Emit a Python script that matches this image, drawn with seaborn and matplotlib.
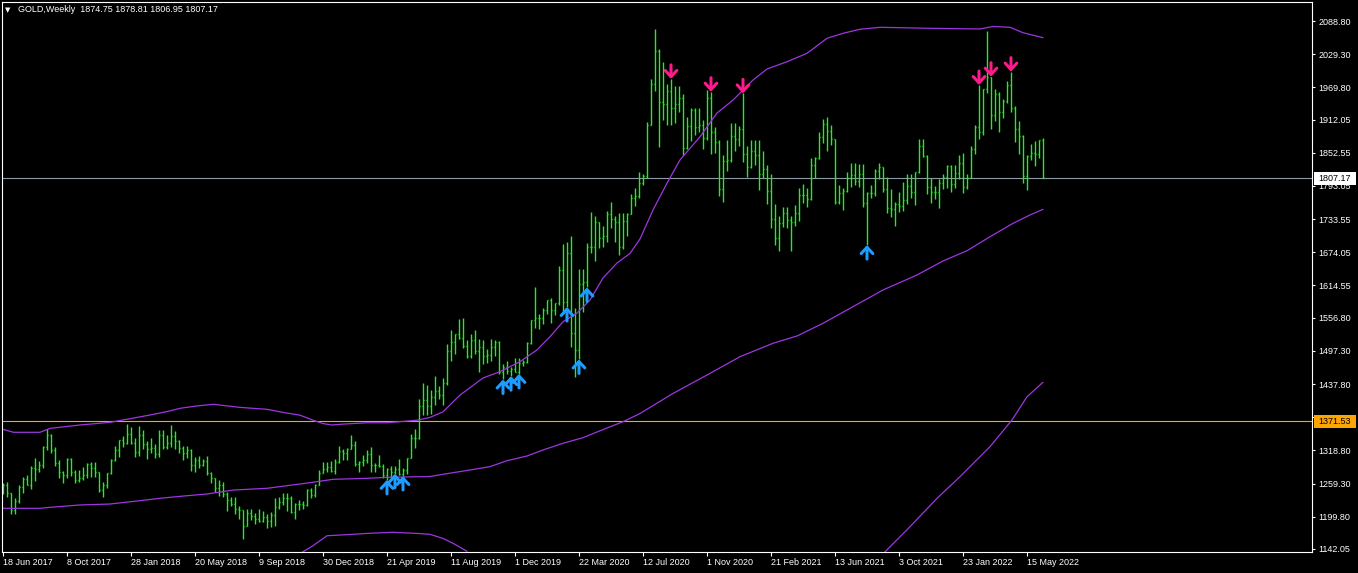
import pandas as pd
import matplotlib
matplotlib.use('Agg')
import matplotlib.pyplot as plt
import matplotlib.transforms as mtransforms
from matplotlib.patches import Rectangle
import seaborn as sns

symbol = 'GOLD,Weekly'
first_week = '2017-06-18'

# weekly OHLC, one value per bar (Jun 2017 .. Jun 2022)
opens = [
    1254, 1256, 1242, 1212, 1228, 1254, 1268, 1257, 1288, 1285, 1292, 1325, 1347, 1320, 1297, 1280, 1274, 1303, 1280, 1266, 1269, 1275, 1294, 1287, 1280, 1248, 1256, 1278, 1302,
    1320, 1338, 1333, 1349, 1333, 1316, 1347, 1330, 1322, 1323, 1313, 1347, 1325, 1332, 1345, 1336, 1323, 1315, 1320, 1292, 1302, 1293, 1299, 1278, 1269, 1252, 1256, 1241, 1230, 1223, 1214, 1212, 1184, 1206, 1201, 1196, 1193, 1200, 1192, 1203, 1218, 1226, 1233, 1233, 1208, 1222, 1222, 1221, 1248, 1238, 1256, 1279,
    1285, 1289, 1282, 1298, 1318, 1314, 1322, 1328, 1294, 1298, 1302, 1312, 1292, 1292, 1290, 1275, 1286, 1280, 1286, 1277, 1284, 1305, 1341, 1341, 1399, 1409, 1399, 1415, 1426, 1419, 1440, 1497, 1513, 1527, 1520, 1506, 1488, 1517, 1497, 1505, 1489, 1490, 1505, 1514, 1459, 1468, 1462, 1464, 1459, 1476, 1478, 1511,
    1552, 1557, 1557, 1571, 1589, 1570, 1584, 1643, 1585, 1673, 1530, 1498, 1617, 1620, 1684, 1683, 1729, 1700, 1703, 1743, 1734, 1729, 1684, 1730, 1743, 1771, 1775, 1799, 1810, 1902, 1975, 2035, 1944, 1940, 1964, 1933, 1940, 1950, 1861, 1900, 1930, 1899, 1902, 1879, 1951, 1889, 1871, 1788, 1838, 1839, 1882, 1877,
    1895, 1850, 1827, 1855, 1848, 1814, 1824, 1784, 1734, 1700, 1727, 1745, 1732, 1728, 1744, 1777, 1777, 1769, 1831, 1843, 1881, 1904, 1891, 1877, 1764, 1781, 1784, 1808, 1812, 1802, 1814, 1763, 1780, 1781, 1819, 1827, 1788, 1754, 1751, 1761, 1757, 1768, 1793, 1783, 1818, 1864, 1846, 1792, 1783, 1783, 1798, 1809,
    1829, 1797, 1817, 1835, 1791, 1808, 1859, 1898, 1889, 1966, 1988, 1921, 1958, 1925, 1945, 1974, 1932, 1896, 1883, 1811, 1846, 1853, 1851, 1874.75,
]
highs = [
    1260, 1263, 1243, 1233, 1256, 1271, 1275, 1291, 1306, 1300, 1326, 1357, 1348, 1325, 1302, 1282, 1306, 1306, 1283, 1284, 1289, 1297, 1298, 1298, 1281, 1262, 1279, 1303, 1326,
    1338, 1344, 1366, 1361, 1341, 1362, 1356, 1335, 1341, 1330, 1355, 1356, 1347, 1365, 1354, 1338, 1326, 1326, 1322, 1307, 1308, 1303, 1309, 1281, 1270, 1265, 1263, 1245, 1235, 1235, 1220, 1212, 1214, 1214, 1206, 1214, 1211, 1204, 1208, 1233, 1236, 1243, 1243, 1237, 1225, 1230, 1229, 1250, 1252, 1259, 1284, 1298,
    1298, 1299, 1303, 1326, 1322, 1323, 1346, 1335, 1300, 1311, 1320, 1325, 1297, 1310, 1295, 1288, 1290, 1290, 1304, 1287, 1306, 1348, 1358, 1411, 1439, 1437, 1427, 1453, 1434, 1449, 1510, 1535, 1527, 1555, 1557, 1517, 1527, 1535, 1519, 1517, 1500, 1518, 1516, 1515, 1474, 1479, 1469, 1484, 1484, 1481, 1513, 1553,
    1611, 1563, 1575, 1589, 1592, 1584, 1649, 1689, 1692, 1703, 1575, 1645, 1645, 1690, 1747, 1739, 1729, 1722, 1748, 1765, 1740, 1745, 1744, 1745, 1779, 1789, 1818, 1815, 1907, 1984, 2075, 2039, 2015, 1976, 1985, 1972, 1973, 1958, 1917, 1933, 1933, 1932, 1912, 1965, 1962, 1898, 1876, 1848, 1875, 1906, 1906, 1900,
    1959, 1864, 1875, 1876, 1875, 1855, 1830, 1815, 1760, 1740, 1755, 1755, 1740, 1758, 1790, 1797, 1790, 1843, 1845, 1890, 1913, 1916, 1903, 1878, 1795, 1790, 1818, 1834, 1834, 1832, 1832, 1782, 1795, 1823, 1834, 1827, 1809, 1787, 1765, 1782, 1800, 1814, 1814, 1818, 1877, 1877, 1849, 1808, 1793, 1805, 1814, 1831,
    1831, 1830, 1848, 1853, 1815, 1865, 1902, 1974, 1966, 2070, 1989, 1966, 1961, 1949, 1982, 1998, 1936, 1909, 1884, 1849, 1869, 1874, 1876, 1878.81,
]
lows = [
    1241, 1236, 1205, 1204, 1225, 1243, 1256, 1250, 1264, 1280, 1288, 1319, 1315, 1290, 1270, 1261, 1270, 1273, 1260, 1263, 1266, 1270, 1272, 1271, 1245, 1236, 1252, 1276, 1299,
    1307, 1325, 1330, 1331, 1307, 1309, 1321, 1303, 1314, 1306, 1307, 1321, 1322, 1325, 1322, 1315, 1302, 1305, 1282, 1281, 1288, 1290, 1274, 1260, 1245, 1237, 1236, 1211, 1219, 1205, 1195, 1160, 1183, 1194, 1187, 1190, 1190, 1180, 1182, 1184, 1214, 1221, 1211, 1206, 1196, 1212, 1213, 1220, 1233, 1236, 1256, 1279,
    1280, 1281, 1276, 1297, 1302, 1302, 1321, 1291, 1281, 1290, 1296, 1280, 1281, 1289, 1270, 1266, 1266, 1277, 1274, 1273, 1276, 1305, 1323, 1340, 1382, 1382, 1385, 1400, 1411, 1400, 1437, 1480, 1492, 1519, 1503, 1484, 1485, 1491, 1459, 1474, 1475, 1480, 1488, 1456, 1446, 1456, 1452, 1459, 1456, 1471, 1476, 1510,
    1538, 1536, 1546, 1563, 1548, 1562, 1580, 1563, 1576, 1504, 1451, 1482, 1567, 1611, 1673, 1659, 1681, 1683, 1692, 1717, 1693, 1670, 1680, 1704, 1743, 1757, 1772, 1794, 1807, 1902, 1963, 1863, 1911, 1902, 1902, 1906, 1926, 1848, 1860, 1873, 1885, 1890, 1860, 1876, 1850, 1853, 1775, 1764, 1819, 1836, 1855, 1864,
    1836, 1809, 1825, 1831, 1785, 1808, 1760, 1717, 1687, 1676, 1720, 1718, 1677, 1721, 1731, 1763, 1756, 1768, 1808, 1842, 1870, 1856, 1866, 1761, 1761, 1750, 1783, 1792, 1794, 1791, 1755, 1687, 1772, 1775, 1806, 1782, 1745, 1737, 1721, 1746, 1748, 1760, 1772, 1758, 1816, 1845, 1778, 1762, 1770, 1753, 1788, 1789,
    1782, 1790, 1805, 1780, 1788, 1807, 1851, 1878, 1885, 1960, 1895, 1910, 1889, 1915, 1941, 1925, 1872, 1850, 1798, 1786, 1840, 1828, 1843, 1806.95,
]
closes = [
    1256, 1242, 1212, 1228, 1254, 1268, 1257, 1288, 1285, 1292, 1325, 1347, 1320, 1297, 1280, 1274, 1303, 1280, 1266, 1269, 1275, 1294, 1287, 1280, 1248, 1256, 1278, 1302, 1320,
    1338, 1333, 1349, 1333, 1316, 1347, 1330, 1322, 1323, 1313, 1347, 1325, 1332, 1345, 1336, 1323, 1315, 1320, 1292, 1302, 1293, 1299, 1278, 1269, 1252, 1256, 1241, 1230, 1223, 1214, 1212, 1184, 1206, 1201, 1196, 1193, 1200, 1192, 1203, 1218, 1226, 1233, 1233, 1208, 1222, 1222, 1221, 1248, 1238, 1256, 1279, 1285,
    1289, 1282, 1298, 1318, 1314, 1322, 1328, 1294, 1298, 1302, 1312, 1292, 1292, 1290, 1275, 1286, 1280, 1286, 1277, 1284, 1305, 1341, 1341, 1399, 1409, 1399, 1415, 1426, 1419, 1440, 1497, 1513, 1527, 1520, 1506, 1488, 1517, 1497, 1505, 1489, 1490, 1505, 1514, 1459, 1468, 1462, 1464, 1459, 1476, 1478, 1511, 1552,
    1557, 1557, 1571, 1589, 1570, 1584, 1643, 1585, 1673, 1530, 1498, 1617, 1620, 1684, 1683, 1729, 1700, 1703, 1743, 1734, 1729, 1684, 1730, 1743, 1771, 1775, 1799, 1810, 1902, 1975, 2035, 1944, 1940, 1964, 1933, 1940, 1950, 1861, 1900, 1930, 1899, 1902, 1879, 1951, 1889, 1871, 1788, 1838, 1839, 1882, 1877, 1895,
    1850, 1827, 1855, 1848, 1814, 1824, 1784, 1734, 1700, 1727, 1745, 1732, 1728, 1744, 1777, 1777, 1769, 1831, 1843, 1881, 1904, 1891, 1877, 1764, 1781, 1784, 1808, 1812, 1802, 1814, 1763, 1780, 1781, 1819, 1827, 1788, 1754, 1751, 1761, 1757, 1768, 1793, 1783, 1818, 1864, 1846, 1792, 1783, 1783, 1798, 1809, 1829,
    1797, 1817, 1835, 1791, 1808, 1859, 1898, 1889, 1966, 1988, 1921, 1958, 1925, 1945, 1974, 1932, 1896, 1883, 1811, 1846, 1853, 1851, 1875, 1807.17,
]

# indicator lines at sample bars
upper_bar = [0, 2.6, 9.25, 11.75, 19.25, 26.75, 30.9, 36.75, 40.9, 44.25, 48.4, 52.6, 59.25, 66, 70, 74.25, 77.5, 80,
             82.25, 85, 91, 96, 103.5, 106.75, 110, 114.25, 120, 124.25, 129.25, 133.5, 136.75, 140, 143.5, 146.75,
             150, 153.5, 156.75, 159.25, 162.5, 166, 169.25, 174.25, 178.5, 182.5, 187.5, 191, 196, 201, 206, 210,
             214.25, 219.25, 231.75, 244.25, 247.5, 251.75, 255, 260]
upper_val = [1356.6, 1351.3, 1351.3, 1358.4, 1364.4, 1369.2, 1374.6, 1382.3, 1388.3, 1394.3, 1398.5, 1401.5, 1396,
             1392.5, 1387, 1382, 1373, 1367, 1364.4, 1366, 1368.4, 1368.4, 1373, 1378, 1388, 1418, 1448.7, 1460, 1478,
             1499, 1522.7, 1549.6, 1565, 1588.5, 1628, 1654.9, 1672, 1698, 1749.9, 1798, 1839.6, 1881.3, 1923.8, 1947,
             1983, 2002.7, 2015.8, 2030.9, 2057.8, 2066.7, 2074, 2077.5, 2075.7, 2074.5, 2079, 2077.5, 2067.8, 2058.9]
mid_bar = [0, 9.25, 11.75, 19.25, 26.75, 34.25, 39.25, 46, 51, 57.5, 66, 74.25, 78.5, 82.5, 91, 96, 106.75, 110.5,
           116.75, 121.75, 126, 131, 135, 140, 145, 149.25, 155, 159.25, 167.5, 176, 184.25, 192.5, 198.5, 205,
           211.75, 220, 228.5, 235, 241, 246.75, 252.5, 256.75, 260]
mid_val = [1215, 1215, 1216.8, 1221, 1222.7, 1228.7, 1233, 1237.6, 1240.7, 1247.7, 1250.9, 1258.6, 1262.8, 1267,
           1268.8, 1270.6, 1272, 1276.6, 1283.7, 1289.7, 1300.4, 1308.8, 1319.6, 1331.6, 1341.7, 1354, 1370.3, 1385,
           1421, 1454, 1486.9, 1510.9, 1524, 1546.7, 1573.6, 1606.5, 1633.4, 1658.5, 1676.9, 1702, 1726, 1741, 1751]
lower1_bar = [74.75, 77.5, 81, 87.5, 91, 97.5, 103.5, 106.75, 110, 112.5, 116]
lower1_val = [1136, 1148, 1165.8, 1168.4, 1170, 1172, 1170, 1168.4, 1161, 1152.3, 1138]
lower2_bar = [220.5, 226.75, 233.5, 239.25, 246.75, 252.25, 256, 260]
lower2_val = [1137, 1182, 1232.9, 1271.7, 1325.5, 1373.4, 1415, 1441]

# signal arrows (bar numbers)
buy_bars = [96, 98, 100, 125, 127, 129, 141, 144, 146, 216]
sell_bars = [167, 177, 185, 244, 247, 252]

level_lines = [1807.17, 1371.53]

y_tick_labels = ['2088.80', '2029.30', '1969.80', '1912.05', '1852.55', '1793.05', '1733.55', '1674.05',
                 '1614.55', '1556.80', '1497.30', '1437.80', '1378.30', '1318.80', '1259.30', '1199.80', '1142.05']
x_tick_labels = ['18 Jun 2017', '8 Oct 2017', '28 Jan 2018', '20 May 2018', '9 Sep 2018', '30 Dec 2018',
                 '21 Apr 2019', '11 Aug 2019', '1 Dec 2019', '22 Mar 2020', '12 Jul 2020', '1 Nov 2020',
                 '21 Feb 2021', '13 Jun 2021', '3 Oct 2021', '23 Jan 2022', '15 May 2022']

assert len(opens) == len(highs) == len(lows) == len(closes) == 261

df = pd.DataFrame({'open': opens, 'high': highs, 'low': lows, 'close': closes},
                  index=pd.date_range(first_week, periods=len(closes), freq='7D'))
df['bar'] = range(len(df))

sns.set_theme(style='dark', rc={'axes.facecolor': 'black', 'figure.facecolor': 'black'})
plt.rcParams['font.family'] = ['Liberation Sans', 'DejaVu Sans']

W, H = 1358, 573
fig = plt.figure(figsize=(W / 100, H / 100), dpi=100, facecolor='black')
ax = fig.add_axes([2 / W, 21 / H, 1310 / W, 550 / H])
ax.set_facecolor('black')

green = '#22ee22'
purple = '#9d36e0'

# OHLC bars: high-low stick, open tick left, close tick right
for coll in [ax.vlines(df['bar'], df['low'], df['high'], color=green, lw=1.0),
             ax.hlines(df['open'], df['bar'] - 0.3, df['bar'], color=green, lw=1.0),
             ax.hlines(df['close'], df['bar'], df['bar'] + 0.3, color=green, lw=1.0)]:
    coll.set_snap(True)

for xs, ys in [(upper_bar, upper_val), (mid_bar, mid_val), (lower1_bar, lower1_val), (lower2_bar, lower2_val)]:
    sns.lineplot(x=xs, y=ys, ax=ax, color=purple, lw=0.9, sort=False, estimator=None)

ax.axhline(level_lines[0], color='#8d99a6', lw=0.8, zorder=1, snap=True)
ax.axhline(level_lines[1], color='#ffa500', lw=0.8, zorder=1, snap=True)

arrow_style = '->,head_length=0.45,head_width=0.42'
for b in buy_bars:
    ax.annotate('', xy=(b, df['low'].iloc[b]), xytext=(0, -14), textcoords='offset pixels',
                arrowprops=dict(arrowstyle=arrow_style, color='#1e9cff', lw=2.2, shrinkA=0, shrinkB=0,
                                mutation_scale=10), zorder=5)
for b in sell_bars:
    ax.annotate('', xy=(b, df['high'].iloc[b]), xytext=(0, 14), textcoords='offset pixels',
                arrowprops=dict(arrowstyle=arrow_style, color='#ff1a8c', lw=2.2, shrinkA=0, shrinkB=0,
                                mutation_scale=10), zorder=5)

ax.set_xlim(-0.25, 327.25)
ax.set_ylim(1136.67, 2122.87)

ax.set_xticks(range(0, 16 * len(x_tick_labels), 16))
ax.set_xticklabels(x_tick_labels, ha='left')
ax.yaxis.tick_right()
ax.set_yticks([float(t) for t in y_tick_labels])
ax.set_yticklabels(y_tick_labels)
ax.tick_params(axis='x', colors='white', labelcolor='white', length=3, width=0.8, pad=1.5, labelsize=6.5,
               bottom=True)
ax.tick_params(axis='y', colors='white', labelcolor='white', length=2, width=0.8, pad=2.5, labelsize=6.5,
               right=True, left=False)
ax.set_xlabel('')
ax.set_ylabel('')
ax.grid(False)
for s in ax.spines.values():
    s.set_visible(True)
    s.set_color('white')
    s.set_linewidth(0.8)

# price tags on the right scale, drawn over the scale labels
trans = mtransforms.blended_transform_factory(ax.transAxes, ax.transData)
px = (2122.87 - 1136.67) / 550
for level, fc in [(level_lines[0], 'white'), (level_lines[1], '#ffa500')]:
    ax.add_patch(Rectangle((1.0012, level - 6.5 * px), 42 / 1310, 13 * px, transform=trans,
                           facecolor=fc, edgecolor='none', clip_on=False, zorder=10))
    ax.text(1.0045, level, f'{level:.2f}', transform=trans, ha='left', va='center', color='black',
            fontsize=6.5, clip_on=False, zorder=11)

# header
last = df.iloc[-1]
fig.text(5 / W, 1 - 10 / H, '\u25bc', color='white', fontsize=5, va='center', ha='left', family='DejaVu Sans')
fig.text(18 / W, 1 - 10 / H,
         f"{symbol}  {last['open']:.2f} {last['high']:.2f} {last['low']:.2f} {last['close']:.2f}",
         color='white', fontsize=6.5, va='center', ha='left')

fig.savefig('out.png', dpi=100, facecolor='black')
